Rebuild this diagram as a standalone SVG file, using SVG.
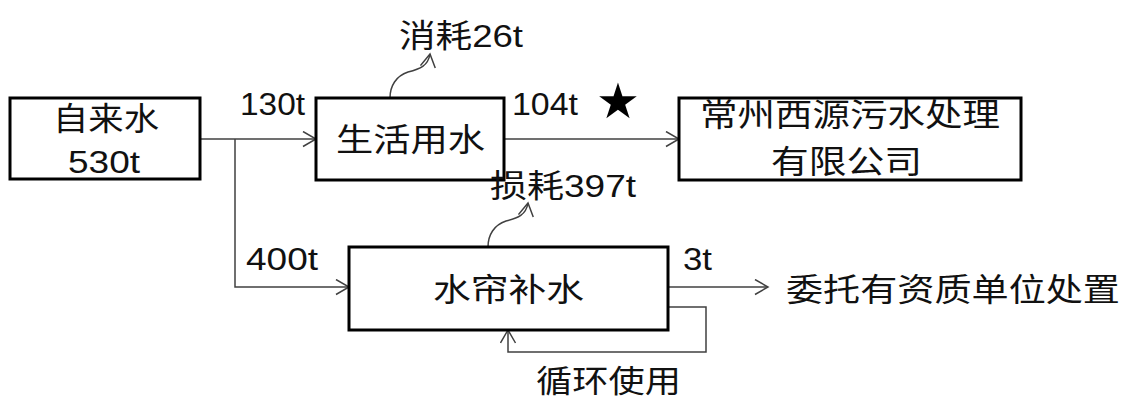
<svg xmlns="http://www.w3.org/2000/svg" width="1128" height="399" viewBox="0 0 1128 399">
<defs>
<style>
.box{fill:#fff;stroke:#000;stroke-width:3}
.t{font-family:"Liberation Sans","Noto Sans CJK SC",sans-serif;font-size:32px;fill:#111}
.n{font-family:"Liberation Sans","Noto Sans CJK SC",sans-serif;font-size:31px;fill:#111}
.c{fill:none;stroke:#404040;stroke-width:1.5}
</style>
<marker id="ah" markerUnits="userSpaceOnUse" markerWidth="16" markerHeight="18" refX="14" refY="8" orient="auto">
<path d="M1,0.5 L14,8 L1,15.5" fill="none" stroke="#404040" stroke-width="1.5"/>
</marker>
</defs>
<rect width="1128" height="399" fill="#fff"/>
<g id="connectors">
<path class="c" d="M200,139 H316" marker-end="url(#ah)"/>
<path class="c" d="M235,139 V287 H349" marker-end="url(#ah)"/>
<path class="c" d="M504,139 H679" marker-end="url(#ah)"/>
<path class="c" d="M668,287 H768" marker-end="url(#ah)"/>
<path class="c" d="M668,307 H706 V352 H508 V330" marker-end="url(#ah)"/>
<path class="c" d="M390,98 C390,86 396,76 408,72 C420,69 428,66 430,54" marker-end="url(#ah)"/>
<path class="c" d="M488,247 C488,235 494,225 506,221 C518,218 526,215 528,203" marker-end="url(#ah)"/>
</g>
<g id="node-zilaishui">
<rect class="box" x="10" y="98" width="190" height="81"/>
<text class="t" x="53" y="130" textLength="106" lengthAdjust="spacingAndGlyphs">自来水</text>
<text class="n" x="68" y="173" textLength="72" lengthAdjust="spacingAndGlyphs">530t</text>
</g>
<g id="node-shenghuo">
<rect class="box" x="316" y="98" width="188" height="82"/>
<text class="t" x="336" y="151" textLength="149" lengthAdjust="spacingAndGlyphs">生活用水</text>
</g>
<g id="node-xiyuan">
<rect class="box" x="679" y="98" width="342" height="82"/>
<text class="t" x="700" y="126" textLength="300" lengthAdjust="spacingAndGlyphs">常州西源污水处理</text>
<text class="t" x="771" y="173" textLength="151" lengthAdjust="spacingAndGlyphs">有限公司</text>
</g>
<g id="node-shuilian">
<rect class="box" x="349" y="247" width="319" height="83"/>
<text class="t" x="433" y="301" textLength="151" lengthAdjust="spacingAndGlyphs">水帘补水</text>
</g>
<g id="labels">
<text class="n" x="240" y="115" textLength="65" lengthAdjust="spacingAndGlyphs">130t</text>
<text class="t" x="399" y="47" textLength="124" lengthAdjust="spacingAndGlyphs">消耗26t</text>
<text class="n" x="512" y="115" textLength="66" lengthAdjust="spacingAndGlyphs">104t</text>
<text x="596" y="118" style="font-family:'DejaVu Sans',sans-serif;font-size:49px;fill:#000">★</text>
<text class="n" x="246" y="270" textLength="72" lengthAdjust="spacingAndGlyphs">400t</text>
<text class="t" x="490" y="197" textLength="146" lengthAdjust="spacingAndGlyphs">损耗397t</text>
<text class="n" x="683" y="270" textLength="29" lengthAdjust="spacingAndGlyphs">3t</text>
<text class="t" x="786" y="301" textLength="334" lengthAdjust="spacingAndGlyphs">委托有资质单位处置</text>
<text class="t" x="536" y="392" style="font-size:31px" textLength="145" lengthAdjust="spacingAndGlyphs">循环使用</text>
</g>
</svg>
